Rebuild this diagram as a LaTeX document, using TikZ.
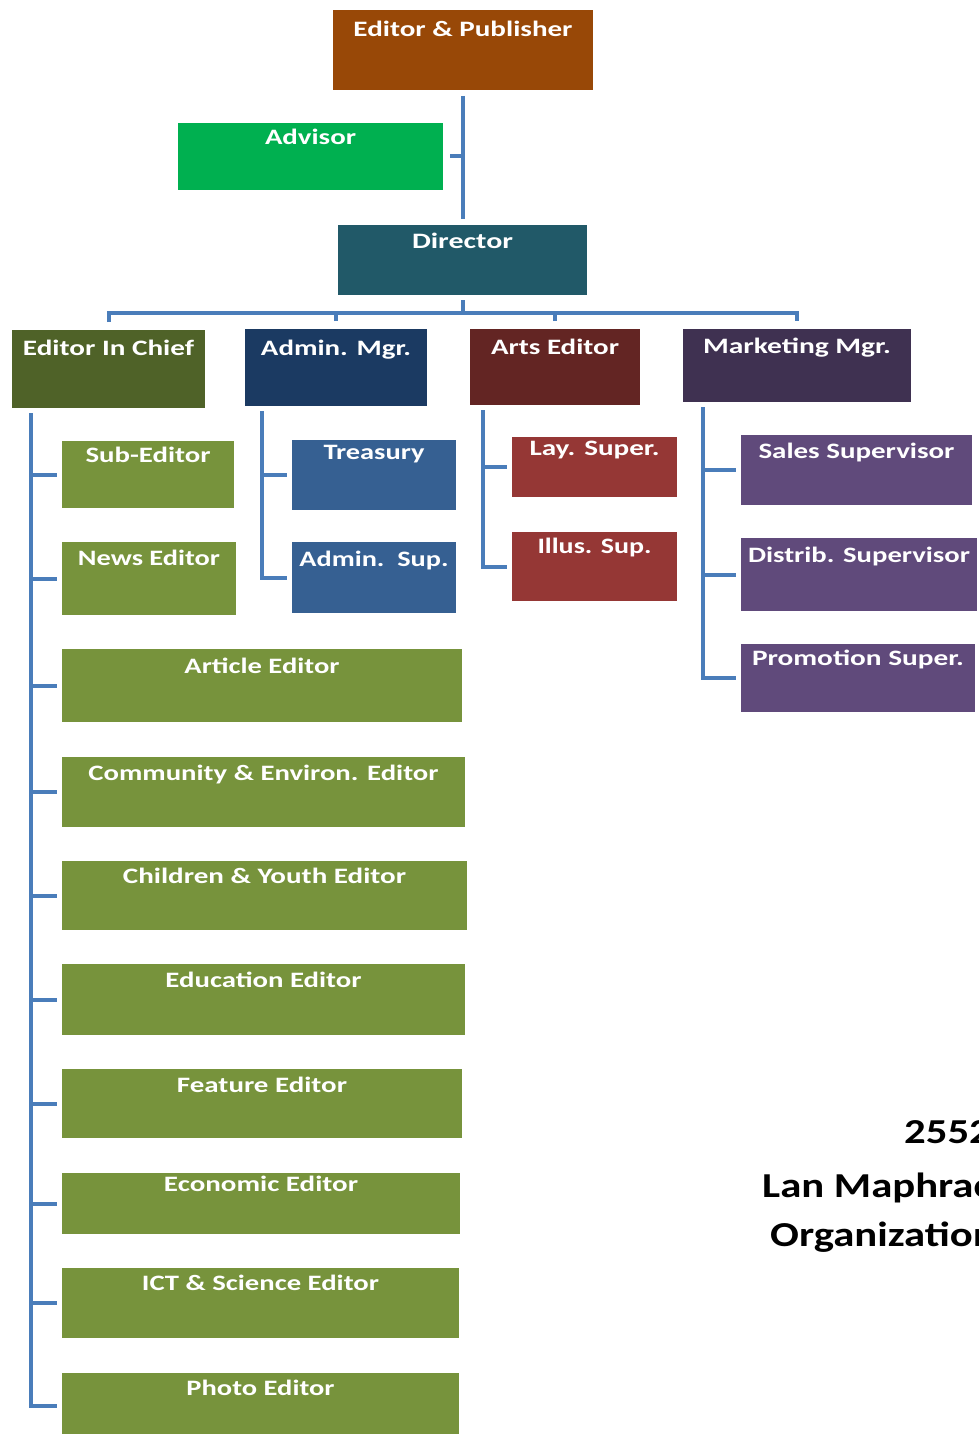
\documentclass[tikz,border=0pt]{standalone}
\usepackage{fontspec}
\setmainfont{Carlito}
\usepackage{graphicx}
\usetikzlibrary{fit}
\definecolor{cEP}{HTML}{984807}
\definecolor{cAdv}{HTML}{00B050}
\definecolor{cDir}{HTML}{215968}
\definecolor{cEIC}{HTML}{4F6228}
\definecolor{cAdm}{HTML}{1B3A62}
\definecolor{cArt}{HTML}{632523}
\definecolor{cMkt}{HTML}{3F3151}
\definecolor{cGrn}{HTML}{77933C}
\definecolor{cBlu}{HTML}{366092}
\definecolor{cRed}{HTML}{953735}
\definecolor{cPur}{HTML}{604A7B}
\definecolor{cLine}{HTML}{4A7DBA}
\tikzset{
  box/.style={draw=none,inner sep=0pt,outer sep=0pt,rectangle},
  lbl/.style={text=white,inner sep=0pt,font=\fontsize{22}{24}\selectfont\bfseries},
  conn/.style={draw=cLine,line width=4pt,line join=miter},
  captxt/.style={text=black,inner sep=0pt,font=\fontsize{35}{38}\selectfont\bfseries}
}
\newcommand\obox[9]{%
  \node[box,fill=#6,fit={(#2,#3)(#4,#5)}] (#1) {};
  \node[lbl,anchor=base] (#1-t) at ({(#2+#4)/2},#7) {\resizebox{#8pt}{\height}{#9}};}
\begin{document}
\begin{tikzpicture}[x=1pt,y=-1pt]
\useasboundingbox (0,0) rectangle (979,1434);
\fill[white] (0,0) rectangle (979,1434);
% top level
\obox{ep}{333}{10}{593}{90}{cEP}{37}{219}{Editor \& Publisher}
\obox{adv}{178}{123}{443}{190}{cAdv}{145}{91}{Advisor}
\obox{dir}{338}{225}{587}{295}{cDir}{248}{101}{Director}
% second level
\obox{eic}{12}{330}{205}{408}{cEIC}{355}{171}{Editor In Chief}
\obox{adm}{245}{329}{427}{406}{cAdm}{355}{150}{Admin. Mgr.}
\obox{art}{470}{329}{640}{405}{cArt}{354}{128}{Arts Editor}
\obox{mkt}{683}{329}{911}{402}{cMkt}{353}{188}{Marketing Mgr.}
% editor in chief children
\obox{sub}{62}{441}{234}{508}{cGrn}{462}{125}{Sub-Editor}
\obox{news}{62}{542}{236}{615}{cGrn}{565}{142}{News Editor}
\obox{artc}{62}{649}{462}{722}{cGrn}{673}{155}{Article Editor}
\obox{comm}{62}{757}{465}{827}{cGrn}{780}{350}{Community \& Environ. Editor}
\obox{child}{62}{861}{467}{930}{cGrn}{883}{283}{Children \& Youth Editor}
\obox{edu}{62}{964}{465}{1035}{cGrn}{987}{196}{Education Editor}
\obox{feat}{62}{1069}{462}{1138}{cGrn}{1092}{170}{Feature Editor}
\obox{econ}{62}{1173}{460}{1234}{cGrn}{1191}{194}{Economic Editor}
\obox{ict}{62}{1268}{459}{1338}{cGrn}{1290}{237}{ICT \& Science Editor}
\obox{photo}{62}{1373}{459}{1438}{cGrn}{1395}{148}{Photo Editor}
% admin children
\obox{trs}{292}{440}{456}{510}{cBlu}{459}{101}{Treasury}
\obox{asup}{292}{542}{456}{613}{cBlu}{566}{149}{Admin.\ \ Sup.}
% arts children
\obox{lay}{512}{437}{677}{497}{cRed}{455}{130}{Lay. Super.}
\obox{ill}{512}{532}{677}{601}{cRed}{553}{114}{Illus. Sup.}
% marketing children
\obox{sal}{741}{435}{972}{505}{cPur}{458}{196}{Sales Supervisor}
\obox{dis}{741}{538}{977}{611}{cPur}{562}{222}{Distrib. Supervisor}
\obox{pro}{741}{644}{975}{712}{cPur}{665}{212}{Promotion Super.}
% top connectors
\draw[conn] ([yshift=-6pt]ep.south) -- ([yshift=6pt]ep.south |- dir.north);
\draw[conn] ([xshift=7pt]adv.east) -- (adv.east -| ep.south);
\coordinate (bus) at (463,313);
\draw[conn] ([yshift=-5pt]dir.south) -- (dir.south |- bus);
\draw[conn] ([yshift=8pt]eic.north) -- (eic.north |- bus) -| ([yshift=8pt]mkt.north);
\draw[conn] ([yshift=8pt]adm.north) -- (adm.north |- bus);
\draw[conn] ([yshift=8pt]art.north) -- (art.north |- bus);
% editor in chief branch
\coordinate (eicv) at (31,413);
\draw[conn] (eicv) |- ([xshift=-5pt]photo.west);
\foreach \c in {sub,news,artc,comm,child,edu,feat,econ,ict}
  \draw[conn] (\c.west -| eicv) -- ([xshift=-5pt]\c.west);
% admin branch
\coordinate (admv) at (262,411);
\draw[conn] (admv) |- ([xshift=-5pt]asup.west);
\draw[conn] (trs.west -| admv) -- ([xshift=-5pt]trs.west);
% arts branch
\coordinate (artv) at (483,410);
\draw[conn] (artv) |- ([xshift=-5pt]ill.west);
\draw[conn] (lay.west -| artv) -- ([xshift=-5pt]lay.west);
% marketing branch
\coordinate (mktv) at (703,407);
\draw[conn] (mktv) |- ([xshift=-5pt]pro.west);
\draw[conn] (sal.west -| mktv) -- ([xshift=-5pt]sal.west);
\draw[conn] (dis.west -| mktv) -- ([xshift=-5pt]dis.west);
% caption
\node[captxt,anchor=base west] (c1) at (904,1143) {\scalebox{1.22}[1]{2552}};
\node[captxt,anchor=base west] (c2) at (762,1197) {\scalebox{1.22}[1]{Lan Maphrac}};
\node[captxt,anchor=base west] (c3) at (770,1246) {\scalebox{1.22}[1]{Organization}};
\end{tikzpicture}
\end{document}
